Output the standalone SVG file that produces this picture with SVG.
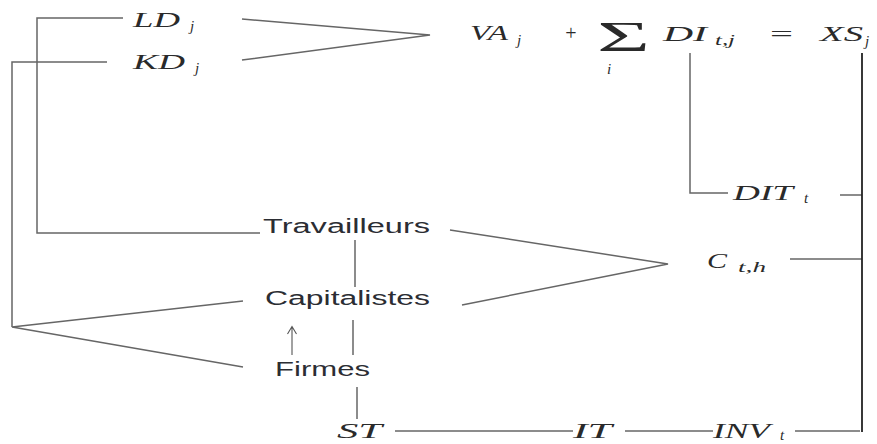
<svg xmlns="http://www.w3.org/2000/svg" width="877" height="444" viewBox="0 0 877 444">
<defs>
<style>
.m{font-family:"Liberation Serif","Times New Roman",serif;font-style:italic;fill:#2a2a2a;font-size:22px}
.s{font-family:"Liberation Serif","Times New Roman",serif;font-style:italic;fill:#2a2a2a;font-size:15px}
.t{font-family:"Liberation Sans",Arial,sans-serif;fill:#2b2d33;font-size:20px}
.c{fill:none;stroke:#666;stroke-width:1.5}
.k{fill:none;stroke:#222;stroke-width:1.8}
.a{fill:none;stroke:#555;stroke-width:1.1}
</style>
</defs>
<rect width="877" height="444" fill="#fff"/>
<g id="connectors">
<path class="c" d="M260 233 H37 V18 H123"/>
<path class="c" d="M107 62 H12 V327"/>
<path class="c" d="M243 301 L12 327 L243 367"/>
<path class="c" d="M242 19 L430 35 L242 60"/>
<path class="c" d="M690 53 V193 H728"/>
<path class="c" d="M840 195 H862"/>
<path class="c" d="M450 230 L668 264 L462 305"/>
<path class="c" d="M790 259 H862"/>
<path class="k" d="M862 53 V432"/>
<path class="c" d="M355 240 V287"/>
<path class="c" d="M353 320 V355"/>
<path class="a" d="M292 355 V327 M287.5 334 L292 326.5 L296.5 334"/>
<path class="c" d="M357 387 V419"/>
<path class="c" d="M395 431 H573"/>
<path class="c" d="M625 431 H713"/>
<path class="c" d="M795 431 H860"/>
</g>
<g id="LD"><text class="m" x="133" y="27" style="font-size:20px" textLength="47" lengthAdjust="spacingAndGlyphs">LD</text><text class="s" x="190" y="31">j</text></g>
<g id="KD"><text class="m" x="133" y="69" style="font-size:20px" textLength="52" lengthAdjust="spacingAndGlyphs">KD</text><text class="s" x="195" y="73">j</text></g>
<g id="equation">
<text class="m" x="470" y="40" textLength="38" lengthAdjust="spacingAndGlyphs">VA</text><text class="s" x="517" y="45">j</text>
<text class="m" x="564" y="40" style="font-size:20px">+</text>
<text class="m" x="597" y="51" style="font-size:42px;font-style:normal" textLength="53" lengthAdjust="spacingAndGlyphs">Σ</text>
<text class="m" x="607" y="74" style="font-size:15px">i</text>
<text class="m" x="663" y="41" textLength="44" lengthAdjust="spacingAndGlyphs">DI</text><text class="s" x="715" y="45" textLength="20" lengthAdjust="spacingAndGlyphs">t,j</text>
<text class="m" x="770" y="41" style="font-style:normal" textLength="23" lengthAdjust="spacingAndGlyphs">=</text>
<text class="m" x="820" y="41" textLength="43" lengthAdjust="spacingAndGlyphs">XS</text><text class="s" x="865" y="46">j</text>
</g>
<g id="DIT"><text class="m" x="733" y="200" textLength="60" lengthAdjust="spacingAndGlyphs">DIT</text><text class="s" x="804" y="203">t</text></g>
<g id="C"><text class="m" x="707" y="268" textLength="20" lengthAdjust="spacingAndGlyphs">C</text><text class="s" x="738" y="272" textLength="28" lengthAdjust="spacingAndGlyphs">t,h</text></g>
<g id="Travailleurs"><text class="t" x="263" y="233" textLength="167" lengthAdjust="spacingAndGlyphs">Travailleurs</text></g>
<g id="Capitalistes"><text class="t" x="265" y="305" textLength="165" lengthAdjust="spacingAndGlyphs">Capitalistes</text></g>
<g id="Firmes"><text class="t" x="275" y="376" textLength="95" lengthAdjust="spacingAndGlyphs">Firmes</text></g>
<g id="ST"><text class="m" x="337" y="438" textLength="45" lengthAdjust="spacingAndGlyphs">ST</text></g>
<g id="IT"><text class="m" x="573" y="438" textLength="39" lengthAdjust="spacingAndGlyphs">IT</text></g>
<g id="INV"><text class="m" x="713" y="438" textLength="57" lengthAdjust="spacingAndGlyphs">INV</text><text class="s" x="780" y="440">t</text></g>
</svg>
